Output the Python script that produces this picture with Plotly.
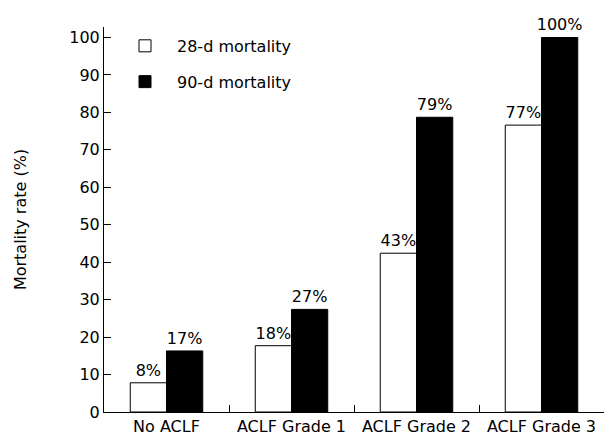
import plotly.graph_objects as go

categories = ["No ACLF", "ACLF Grade 1", "ACLF Grade 2", "ACLF Grade 3"]
mort28 = [7.8, 17.7, 42.4, 76.6]
mort90 = [16.3, 27.4, 78.7, 100.0]
labels28 = ["8%", "18%", "43%", "77%"]
labels90 = ["17%", "27%", "79%", "100%"]
y_ticks = [0, 10, 20, 30, 40, 50, 60, 70, 80, 90, 100]

FONT = "Verdana, DejaVu Sans"
FS = 16

fig = go.Figure()
fig.add_trace(go.Bar(
    x=categories, y=mort28, name="28-d mortality", legendgroup="a",
    marker=dict(color="white", line=dict(color="black", width=1)),
    text=labels28, textposition="outside", cliponaxis=False,
    constraintext="none",
    textfont=dict(family=FONT, size=FS, color="black"),
))
fig.add_trace(go.Bar(
    x=categories, y=mort90, name="90-d mortality", legendgroup="b",
    marker=dict(color="black", line=dict(color="black", width=1)),
    text=labels90, textposition="outside", cliponaxis=False,
    constraintext="none",
    textfont=dict(family=FONT, size=FS, color="black"),
))

# page body has an 8px margin, so the figure is sized/offset to compensate
fig.update_layout(
    width=606, height=434,
    margin=dict(l=96, r=10, t=19, b=30, autoexpand=False),
    paper_bgcolor="white", plot_bgcolor="white",
    font=dict(family=FONT, size=FS, color="black"),
    barmode="group", bargap=0.42, bargroupgap=0,
    showlegend=True,
    legend=dict(x=0.018, y=0.995, xanchor="left", yanchor="top",
                bgcolor="rgba(0,0,0,0)", tracegroupgap=12,
                traceorder="grouped", itemwidth=54,
                font=dict(family=FONT, size=FS, color="black")),
    xaxis=dict(showline=True, linecolor="black", linewidth=1,
               ticks="inside", tickson="boundaries", ticklen=7,
               tickcolor="black", showgrid=False, mirror=False,
               automargin=False),
    yaxis=dict(range=[0, 102.8], tickvals=y_ticks, showline=True,
               linecolor="black", linewidth=1, ticks="inside", ticklen=7,
               tickcolor="black", showgrid=False, zeroline=False,
               automargin=False,
               title=dict(text="Mortality rate (%)", standoff=38,
                          font=dict(family=FONT, size=FS))),
)

fig.write_html("out.html")
